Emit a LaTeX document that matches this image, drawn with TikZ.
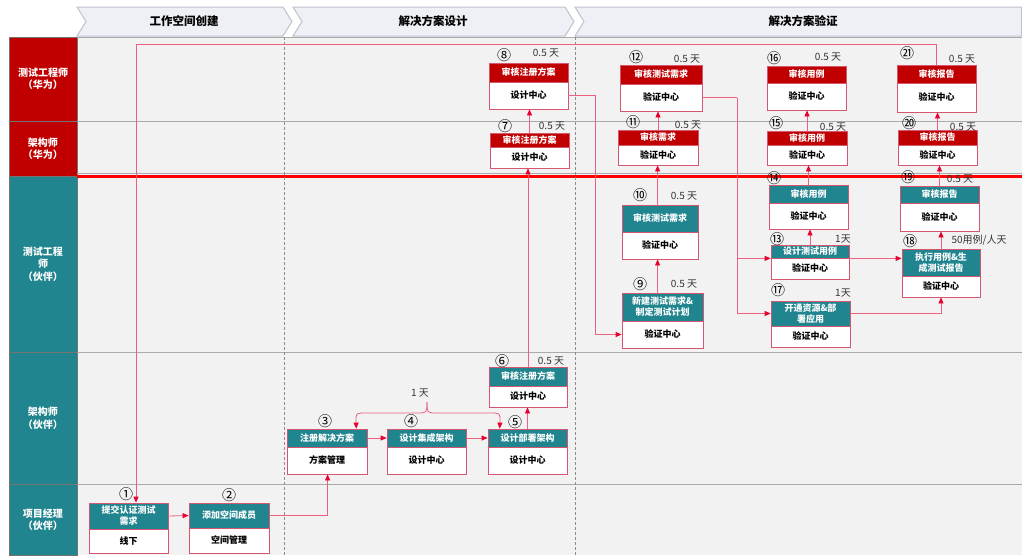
\documentclass[tikz,border=0pt]{standalone}
\usepackage{fontspec}
\setmainfont{Noto Sans CJK SC}
\usetikzlibrary{fit,calc,arrows.meta}
\definecolor{hred}{RGB}{192,0,0}
\definecolor{tealc}{RGB}{33,133,143}
\definecolor{nborder}{RGB}{214,86,112}
\definecolor{conn}{RGB}{236,96,128}
\definecolor{tipred}{RGB}{232,0,48}
\definecolor{bgc}{RGB}{242,242,242}
\definecolor{chevf}{RGB}{238,240,246}
\definecolor{chevd}{RGB}{190,194,206}
\definecolor{lanel}{RGB}{170,170,170}
\definecolor{dayc}{RGB}{50,50,50}

\tikzset{
 hdrbox/.style={draw=nborder, line width=0.8pt, inner sep=0pt},
 bodybox/.style={draw=nborder, fill=white, line width=0.8pt, inner sep=0pt},
 hdrtext/.style={text=white, font=\bfseries\fontsize{9}{11}\selectfont, align=center, inner sep=0pt},
 bodytext/.style={font=\bfseries\fontsize{9}{10}\selectfont, align=center, inner sep=0pt},
 numlbl/.style={font=\fontsize{14}{14}\selectfont, inner sep=0pt},
 daylbl/.style={font=\fontsize{10}{10}\selectfont, text=dayc, inner sep=0pt},
 flow/.style={draw=conn, line width=0.8pt, -{Triangle[length=6pt,width=5pt,color=tipred]}},
 lanebox/.style={draw=black!55, line width=0.5pt, inner sep=0pt},
 lanetext/.style={text=white, font=\bfseries\fontsize{10}{12.5}\selectfont, align=center, inner sep=0pt},
 chev/.style={fill=chevf, draw=chevd, line width=1pt},
 chevtext/.style={font=\bfseries\fontsize{11.5}{12}\selectfont, inner sep=0pt},
 laneline/.style={draw=lanel, line width=0.8pt},
 phasedash/.style={draw=black!45, line width=0.6pt, dash pattern=on 3pt off 2pt},
}

% name, xl, xr, ytop, ymid, ybot, colour, header, body
\newcommand{\procbox}[9]{%
 \node[hdrbox, fill=#7, fit={(#2,#4)(#3,#5)}] (#1h) {};
 \node[bodybox, fit={(#2,#5)(#3,#6)}] (#1b) {};
 \node[hdrtext] (#1ht) at (#1h.center) {#8};
 \node[bodytext] (#1bt) at (#1b.center) {#9};
}
\newcommand{\lanelabel}[6]{%
 \node[lanebox, fill=#5, fit={(9,#2)(77,#3)}] (#1) {};
 \node[lanetext] (#1t) at (#1.center) {#6};
}

\begin{document}
\begin{tikzpicture}[x=1pt,y=-1pt]
\useasboundingbox (0,0) rectangle (1022,555);
\fill[white] (0,0) rectangle (1022,555);
\fill[bgc] (77,37) rectangle (1022,555);

% phase header chevrons
\draw[chev] (77,7) -- (283,7) -- (292,21.5) -- (283,36) -- (77,36) -- (86,21.5) -- cycle;
\node[chevtext] (ph1) at (184,21.5) {工作空间创建};
\draw[chev] (293,7) -- (565,7) -- (574,21.5) -- (565,36) -- (293,36) -- (302,21.5) -- cycle;
\node[chevtext] (ph2) at (433,21.5) {解决方案设计};
\draw[chev] (575,7) -- (1021.5,7) -- (1021.5,36) -- (575,36) -- (584,21.5) -- cycle;
\node[chevtext] (ph3) at (803,21.5) {解决方案验证};

% lane labels
\lanelabel{lane1}{37}{121}{}{hred}{测试工程师\\（华为）}
\lanelabel{lane2}{121}{176}{}{hred}{架构师\\（华为）}
\lanelabel{lane3}{176}{352}{}{tealc}{测试工程\\师\\（伙伴）}
\lanelabel{lane4}{352}{484}{}{tealc}{架构师\\（伙伴）}
\lanelabel{lane5}{484}{555}{}{tealc}{项目经理\\（伙伴）}

% lane lines
\draw[laneline] (77,37) -- (1022,37);
\draw[laneline] (77,121) -- (1022,121);
\draw[laneline] (77,173.5) -- (1022,173.5);
\draw[red, line width=2.6pt] (77,176.5) -- (1022,176.5);
\draw[laneline] (77,352) -- (1022,352);
\draw[laneline] (77,484) -- (1022,484);

% phase separators
\draw[phasedash] (284.5,37) -- (284.5,555);
\draw[phasedash] (575,37) -- (575,555);

% process boxes
\procbox{n1}{89}{168}{503}{529}{553}{tealc}{提交认证测试\\需求}{线下}
\procbox{n2}{189}{269}{503}{528}{553}{tealc}{添加空间成员}{空间管理}
\procbox{n3}{287}{367}{429}{447}{474}{tealc}{注册解决方案}{方案管理}
\procbox{n4}{387}{466}{429}{447}{474}{tealc}{设计集成架构}{设计中心}
\procbox{n5}{488}{567}{429}{447}{474}{tealc}{设计部署架构}{设计中心}
\procbox{n6}{489}{567}{367}{386}{407}{tealc}{审核注册方案}{设计中心}
\procbox{n7}{490}{569}{133}{147}{168}{hred}{审核注册方案}{设计中心}
\procbox{n8}{489}{568}{63}{82}{109}{hred}{审核注册方案}{设计中心}
\procbox{n9}{622}{703}{293}{321}{348}{tealc}{新建测试需求\&\\制定测试计划}{验证中心}
\procbox{n10}{622}{698}{205}{232}{259}{tealc}{审核测试需求}{验证中心}
\procbox{n11}{618}{698}{130}{145}{165}{hred}{审核需求}{验证中心}
\procbox{n12}{620}{702}{65}{84}{111}{hred}{审核测试需求}{验证中心}
\procbox{n13}{771}{849}{245}{258}{279}{tealc}{设计测试用例}{验证中心}
\procbox{n14}{769}{848}{185}{203}{229}{tealc}{审核用例}{验证中心}
\procbox{n15}{767}{847}{131}{145}{165}{hred}{审核用例}{验证中心}
\procbox{n16}{767}{846}{66}{83}{110}{hred}{审核用例}{验证中心}
\procbox{n17}{771}{850}{301}{326}{347}{tealc}{开通资源\&部\\署应用}{验证中心}
\procbox{n18}{902}{980}{249}{276}{297}{tealc}{执行用例\&生\\成测试报告}{验证中心}
\procbox{n19}{900}{979}{186}{203}{231}{tealc}{审核报告}{验证中心}
\procbox{n20}{898}{977}{130}{145}{165}{hred}{审核报告}{验证中心}
\procbox{n21}{897}{976}{65}{83}{112}{hred}{审核报告}{验证中心}

% step numbers and durations
\node[numlbl] (l1) at (126,494) {①};
\node[numlbl] (l2) at (229,495) {②};
\node[numlbl] (l3) at (325,421) {③};
\node[numlbl] (l4) at (411,421) {④};
\node[numlbl] (l5) at (515,422) {⑤};
\node[numlbl] (l6) at (502,361) {⑥};
\node[daylbl] (d6) at (551,361) {0.5 天};
\node[numlbl] (l7) at (505,126) {⑦};
\node[daylbl] (d7) at (552,126) {0.5 天};
\node[numlbl] (l8) at (504,55) {⑧};
\node[daylbl] (d8) at (546,53) {0.5 天};
\node[numlbl] (l9) at (640,284) {⑨};
\node[daylbl] (d9) at (684,284) {0.5 天};
\node[numlbl] (l10) at (640,195) {⑩};
\node[daylbl] (d10) at (684,196) {0.5 天};
\node[numlbl] (l11) at (633,122) {⑪};
\node[daylbl] (d11) at (688,125) {0.5 天};
\node[numlbl] (l12) at (636,57) {⑫};
\node[daylbl] (d12) at (687,59) {0.5 天};
\node[numlbl] (l13) at (777,239) {⑬};
\node[daylbl] (d13) at (843,239) {1天};
\node[numlbl] (l14) at (774,178) {⑭};
\node[numlbl] (l15) at (776,123) {⑮};
\node[daylbl] (d15) at (833,127) {0.5 天};
\node[numlbl] (l16) at (774,58) {⑯};
\node[daylbl] (d16) at (828,57) {0.5 天};
\node[numlbl] (l17) at (778,290) {⑰};
\node[daylbl] (d17) at (843,293) {1天};
\node[numlbl] (l18) at (910,241) {⑱};
\node[daylbl] (d18) at (979,240) {50用例/人天};
\node[numlbl] (l19) at (908,177) {⑲};
\node[daylbl] (d19) at (960,179) {0.5 天};
\node[numlbl] (l20) at (909,123) {⑳};
\node[daylbl] (d20) at (963,127) {0.5 天};
\node[numlbl] (l21) at (907,53) {㉑};
\node[daylbl] (d21) at (962,59) {0.5 天};
\node[daylbl] (d345) at (420,393) {1 天};

% connectors
\draw[flow] (n1h.east) -- (n2h.west);
\draw[flow] (n2h.east) -| ($(n3b.south west)+(41,0)$);
\draw[flow] (n3h.east) -- (n4h.west);
\draw[flow] (n4h.east) -- (n5h.west);
\draw[flow] (n5h.north) -- (n5h.north |- n6b.south);
\draw[flow] (n6h.north) -- (n6h.north |- n7b.south);
\draw[flow] (n7h.north) -- (n7h.north |- n8b.south);
\draw[flow] (n8b.east) -- ++(27,0) |- (n9b.west);
\draw[flow] ($(n9h.north west)+(36,0)$) -- ($(n10b.south west)+(36,0)$);
\draw[flow] ($(n10h.north west)+(36,0)$) -- ($(n11b.south west)+(40,0)$);
\draw[flow] (n11h.north) -- (n11h.north |- n12b.south);
\coordinate (j12) at (737,97.5);
\draw[conn, line width=0.8pt] (n12b.east) -- (j12);
\draw[flow] (j12) |- (n13h.south west);
\draw[flow] (j12) |- (n17h.west);
\draw[flow] (n13h.south east) -- (n13h.south east -| n18h.west);
\draw[flow] (n17h.east) -| (n18b.south);
\draw[flow] (n13h.north) -- (n13h.north |- n14b.south);
\draw[flow] (n14h.north) -- (n14h.north |- n15b.south);
\draw[flow] (n15h.north) -- (n15h.north |- n16b.south);
\draw[flow] (n18h.north) -- (n18h.north |- n19b.south);
\draw[flow] (n19h.north) -- (n19h.north |- n20b.south);
\draw[flow] (n20h.north) -- (n20h.north |- n21b.south);
\coordinate (top21) at (936.5,44);
\coordinate (top1) at (136,44);
\draw[flow] (n21h.north -| top21) -- (top21) -- (top1) -- (top1 |- n1h.north);

% brace from "1 天"
\coordinate (bt) at (427,402);
\draw[flow] (bt) .. controls (427,413) .. (417,413) -- (366,413) .. controls (356,413) .. (356,421) -- ($(n3h.north east)+(-11,0)$);
\draw[flow] (bt) .. controls (427,413) .. (437,413) -- (490,413) .. controls (500,413) .. (500,421) -- ($(n5h.north west)+(12,0)$);
\end{tikzpicture}
\end{document}
